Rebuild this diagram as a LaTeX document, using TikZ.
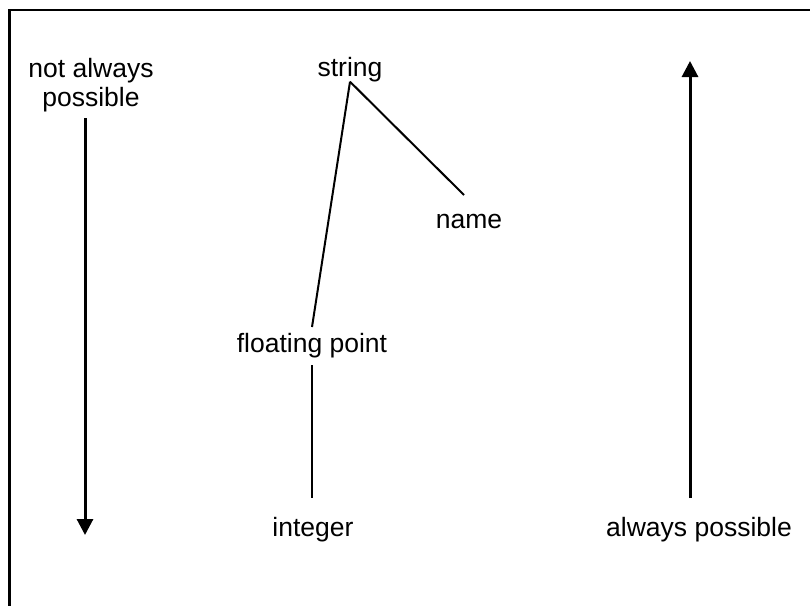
\documentclass[tikz,border=0pt]{standalone}
\usepackage{fontspec}
\setmainfont{Liberation Sans}
\usetikzlibrary{arrows.meta}
\begin{document}
\begin{tikzpicture}[x=1pt,y=-1pt,
  lbl/.style={inner sep=0pt,font=\fontsize{26.5}{29}\selectfont},
  tree/.style={line width=2pt},
  bigarrow/.style={line width=3pt,-{Triangle[width=16pt,length=16pt]}}]
\useasboundingbox (0,0) rectangle (810,605);
\draw[line width=2.8pt] (9.5,620) -- (9.5,10) -- (820,10);
\node[lbl,align=center] (notalways) at (91,85.6) {not always\\possible};
\node[lbl,anchor=base] (string) at (350,76) {string};
\node[lbl,anchor=base] (name) at (469,228) {name};
\node[lbl,anchor=base] (float) at (312,352) {floating point};
\node[lbl,anchor=base] (integer) at (313,536) {integer};
\node[lbl,anchor=base] (always) at (699,536) {always possible};
\coordinate (nametop) at (464,195);
\coordinate (floattop) at (312,327);
\coordinate (floatbot) at (312,365);
\coordinate (inttop) at (312,498);
\coordinate (leftend) at (85,535);
\coordinate (leftstart) at (85,118);
\coordinate (rightstart) at (690,498);
\coordinate (rightend) at (690,61);
\draw[tree] (string.south) -- (nametop);
\draw[tree] (string.south) -- (floattop);
\draw[tree] (floatbot) -- (inttop);
\draw[bigarrow] (leftstart) -- (leftend);
\draw[bigarrow] (rightstart) -- (rightend);
\end{tikzpicture}
\end{document}
